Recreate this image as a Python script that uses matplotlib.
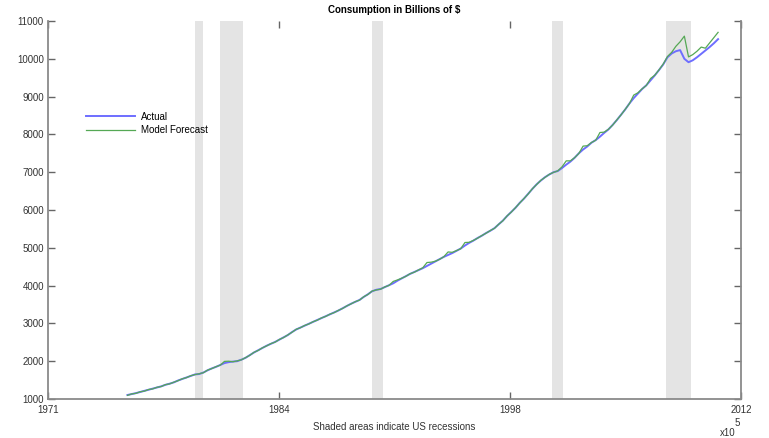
import numpy as np
import pandas as pd
import matplotlib
matplotlib.use('Agg')
import matplotlib.pyplot as plt

plt.rcParams['font.family'] = ['Liberation Sans', 'DejaVu Sans']

# quarterly consumption, billions of $, 1976Q1 .. 2011Q1
actual = [
    1106, 1130, 1155, 1185,  1215, 1245, 1272, 1305,  1335, 1375, 1405, 1440,
    1490, 1530, 1570, 1610,  1650, 1660, 1700, 1760,  1810, 1850, 1900, 1950,
    1975, 1990, 2000, 2040,  2090, 2160, 2230, 2290,  2350, 2410, 2460, 2510,
    2570, 2630, 2690, 2770,  2840, 2890, 2940, 2990,  3040, 3090, 3140, 3190,
    3240, 3290, 3340, 3400,  3460, 3520, 3570, 3620,  3700, 3770, 3850, 3890,
    3910, 3960, 4010, 4060,  4130, 4190, 4250, 4310,  4360, 4410, 4460, 4520,
    4580, 4640, 4700, 4760,  4810, 4860, 4920, 4980,  5060, 5130, 5190, 5260,
    5320, 5390, 5450, 5520,  5620, 5720, 5840, 5950,  6060, 6190, 6300, 6430,
    6560, 6680, 6780, 6870,  6940, 7000, 7030, 7110,  7200, 7280, 7380, 7500,
    7600, 7680, 7780, 7850,  7940, 8040, 8130, 8250,  8380, 8520, 8660, 8820,
    8960, 9080, 9200, 9300,  9430, 9560, 9700, 9850,  10040, 10140, 10200, 10230,
    10000, 9910, 9960, 10040,  10130, 10220, 10310, 10410,  10520,
]
forecast = [
    1096, 1134, 1150, 1190,  1210, 1250, 1268, 1310,  1330, 1380, 1400, 1445,
    1485, 1535, 1565, 1615,  1645, 1668, 1695, 1765,  1805, 1856, 1895, 1995,
    2000, 1985, 2008, 2035,  2095, 2155, 2235, 2285,  2355, 2405, 2465, 2505,
    2575, 2625, 2695, 2765,  2845, 2885, 2945, 2985,  3045, 3085, 3145, 3185,
    3245, 3285, 3345, 3395,  3465, 3515, 3575, 3615,  3705, 3765, 3855, 3885,
    3905, 3965, 4005, 4110,  4150, 4195, 4245, 4315,  4355, 4415, 4470, 4610,
    4620, 4645, 4695, 4765,  4890, 4880, 4925, 4975,  5140, 5145, 5195, 5255,
    5325, 5385, 5455, 5515,  5625, 5715, 5845, 5945,  6065, 6185, 6305, 6425,
    6565, 6675, 6785, 6865,  6945, 6995, 7035, 7140,  7300, 7300, 7385, 7495,
    7690, 7700, 7785, 7845,  8050, 8060, 8135, 8245,  8385, 8515, 8665, 8815,
    9040, 9100, 9205, 9295,  9480, 9565, 9705, 9860,  10060, 10170, 10330, 10450,
    10600, 10050, 10110, 10200,  10310, 10280, 10420, 10560,  10700,
]
quarters = pd.date_range('1976-01-01', periods=len(actual), freq='QS')

# NBER recessions
rec_start = ['1980-01-01', '1981-07-01', '1990-07-01', '2001-03-01', '2007-12-01']
rec_end = ['1980-07-01', '1982-11-01', '1991-03-01', '2001-11-01', '2009-06-01']

# x axis in MATLAB datenum style, ticks every 5000 days
datenum_ticks = [720000, 725000, 730000, 735000]
tick_labels = ['1971', '1984', '1998', '2012']
matlab_epoch = 719529  # datenum of 1970-01-01

fig = plt.figure(figsize=(7.69, 4.38), dpi=100)
ax = fig.add_axes([48 / 769, 1 - 399 / 438, 693 / 769, 378 / 438])

for s, e in zip(rec_start, rec_end):
    ax.axvspan(pd.Timestamp(s), pd.Timestamp(e), color='#e4e4e4', lw=0, zorder=0)

l1, = ax.plot(quarters, actual, color='#6e6eff', lw=1.4, label='Actual', zorder=2)
l2, = ax.plot(quarters, forecast, color='#55a855', lw=0.9, label='Model Forecast', zorder=3)

xt = [d - matlab_epoch for d in datenum_ticks]
ax.set_xlim(xt[0], xt[-1])
ax.set_xticks(xt)
ax.set_xticklabels(tick_labels)
ax.set_ylim(1000, 11000)
ax.set_yticks(np.arange(1000, 11001, 1000))

for side in ['left', 'bottom', 'right']:
    ax.spines[side].set_color('#8a8a8a')
    ax.spines[side].set_linewidth(1.3)
ax.spines['top'].set_visible(False)
ax.tick_params(direction='in', length=5, width=1, color='#666666',
               labelsize=7, labelcolor='#333333', top=True, right=True)
ax.tick_params(axis='x', pad=4)
ax.tick_params(axis='y', pad=3)

ax.set_title('Consumption in Billions of $', fontsize=7, fontweight='bold', pad=6)
ax.set_xlabel('Shaded areas indicate US recessions', fontsize=7, color='#333333', labelpad=5)

ax.legend([l1, l2], ['Actual', 'Model Forecast'], loc='upper left',
          bbox_to_anchor=(0.055, 0.76), frameon=False,
          fontsize=7, handlelength=5, handletextpad=0.6, labelspacing=0.35,
          borderpad=0, borderaxespad=0)

fig.text(737 / 769, 1 - 423 / 438, '5', fontsize=7, color='#333333', ha='center', va='center')
fig.text(728 / 769, 1 - 433 / 438, 'x10', fontsize=7, color='#333333', ha='center', va='center')

fig.savefig('out.png', dpi=100)
